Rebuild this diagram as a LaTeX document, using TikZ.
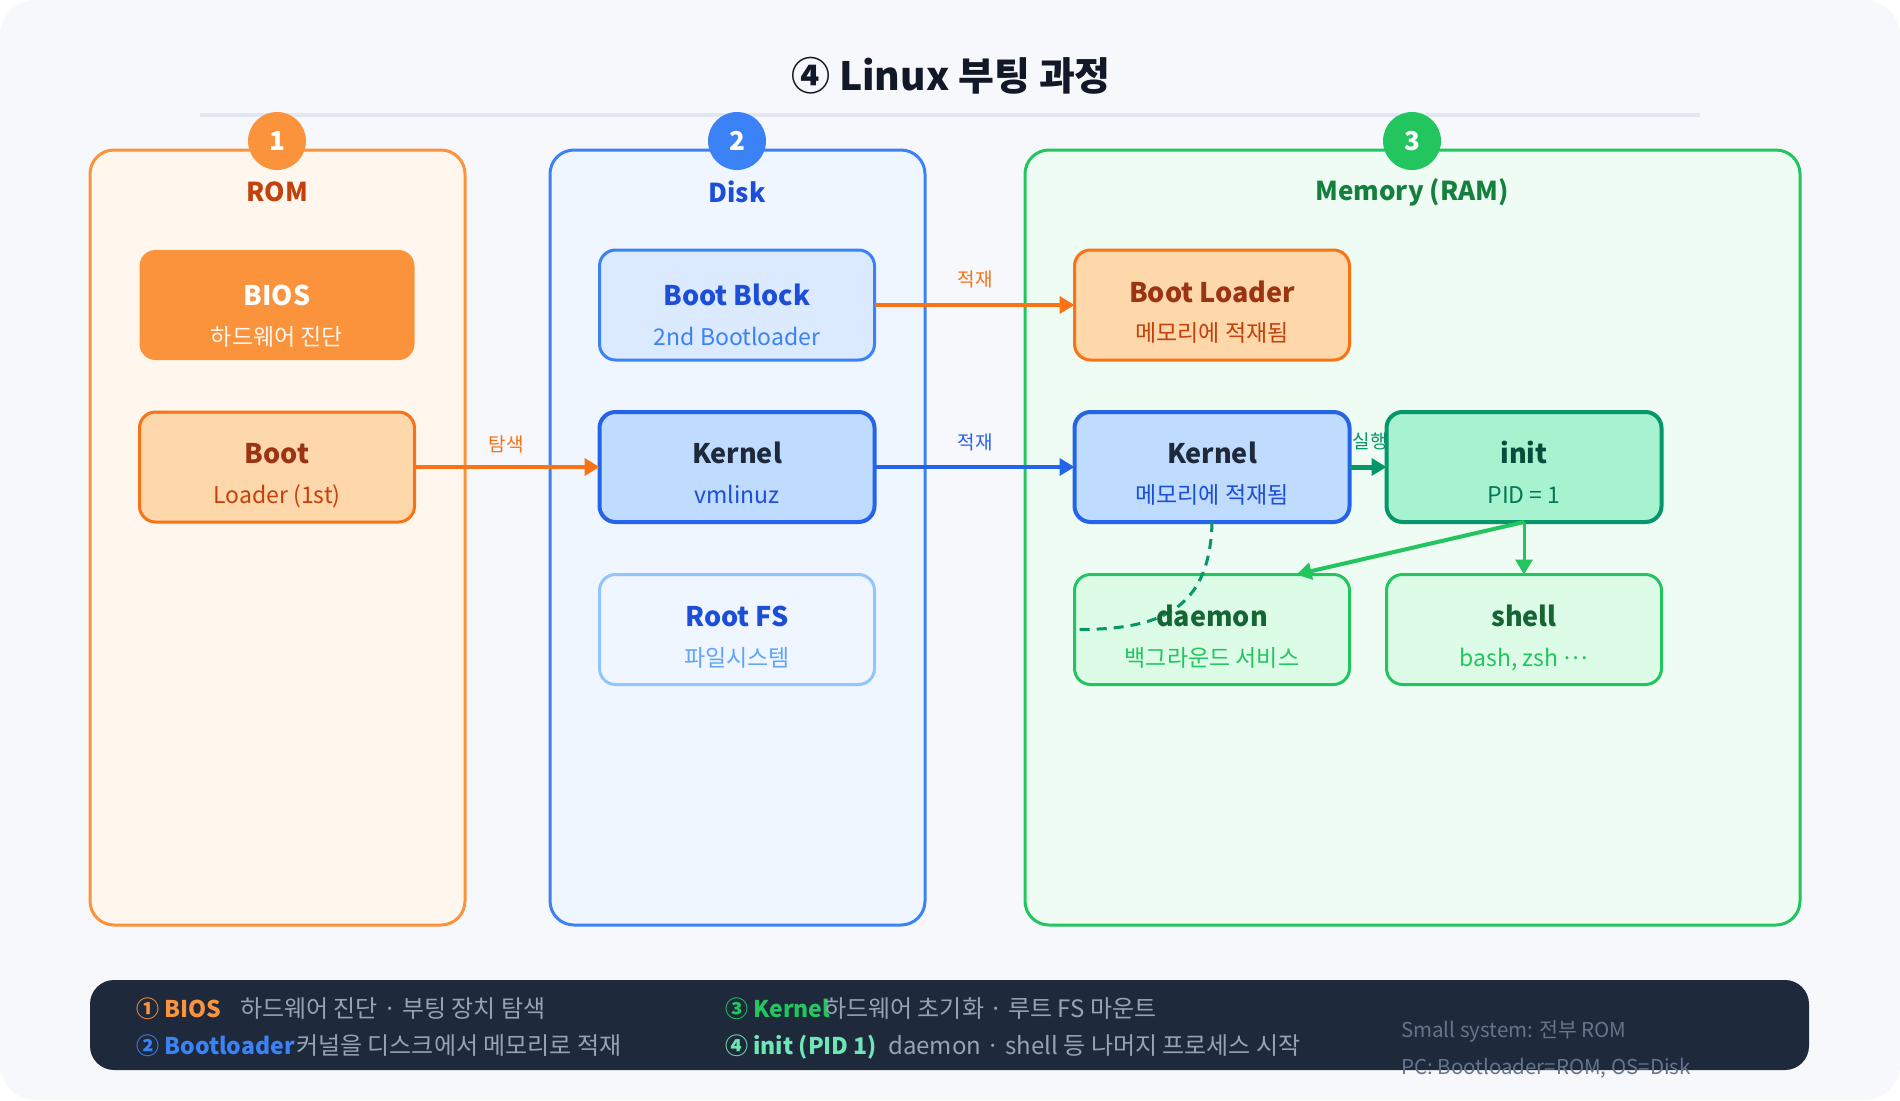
\documentclass[tikz,border=0pt]{standalone}
\usepackage{fontspec}
\setmainfont{Noto Sans CJK KR}
\usetikzlibrary{arrows.meta}
\definecolor{bgc}{HTML}{F6F8FC}
\definecolor{titlec}{HTML}{111827}
\definecolor{sepc}{HTML}{E2E6F0}
\definecolor{romF}{HTML}{FFF7ED}\definecolor{romS}{HTML}{FB923C}\definecolor{romT}{HTML}{C2410C}
\definecolor{diskF}{HTML}{EFF6FF}\definecolor{diskS}{HTML}{3B82F6}\definecolor{diskT}{HTML}{1D4ED8}
\definecolor{memF}{HTML}{EEFCF3}\definecolor{memS}{HTML}{22C55E}\definecolor{memT}{HTML}{15803D}
\definecolor{biosF}{HTML}{FB923C}
\definecolor{blF}{HTML}{FED7AA}\definecolor{blS}{HTML}{F97316}\definecolor{blT}{HTML}{9A3412}\definecolor{blSub}{HTML}{C2410C}
\definecolor{bbF}{HTML}{DBEAFE}
\definecolor{kF}{HTML}{BFDBFE}\definecolor{kS}{HTML}{2563EB}\definecolor{kT}{HTML}{1E293B}
\definecolor{rfS}{HTML}{93C5FD}\definecolor{rfSub}{HTML}{60A5FA}
\definecolor{initF}{HTML}{A7F3D0}\definecolor{initS}{HTML}{059669}\definecolor{initT}{HTML}{064E3B}\definecolor{initSub}{HTML}{047857}
\definecolor{dF}{HTML}{DCFCE7}\definecolor{dT}{HTML}{166534}
\definecolor{legF}{HTML}{1E293B}\definecolor{legT}{HTML}{94A3B8}\definecolor{legS}{HTML}{64748B}
\definecolor{mint}{HTML}{6EE7B7}
\tikzset{
  colbox/.style={rounded corners=24, line width=3, minimum width=375, minimum height=775, inner sep=0, outer sep=0},
  badge/.style={circle, minimum size=58, inner sep=0, text=white, font=\bfseries\fontsize{26}{30}\selectfont},
  coltitle/.style={font=\bfseries\fontsize{26}{30}\selectfont},
  box/.style={rounded corners=16, minimum width=275, minimum height=110, inner sep=0, outer sep=0, line width=3},
  ttl/.style={font=\bfseries\fontsize{27}{32}\selectfont, anchor=base, inner sep=0},
  sub/.style={font=\fontsize{23}{27}\selectfont, anchor=base, inner sep=0},
  lbl/.style={font=\fontsize{19}{22}\selectfont},
  arr/.style={-{Triangle[length=15pt,width=17pt]}, line width=4},
  legb/.style={font=\bfseries\fontsize{23}{27}\selectfont, anchor=base west, inner sep=0},
  legn/.style={font=\fontsize{24}{28}\selectfont, anchor=base west, inner sep=0, text=legT},
  legs/.style={font=\fontsize{20.5}{24}\selectfont, anchor=base west, inner sep=0, text=legS},
}
\begin{document}
\begin{tikzpicture}[x=1pt,y=-1pt]
\useasboundingbox (0,0) rectangle (1900,1100);
\fill[white] (0,0) rectangle (1900,1100);
\fill[bgc, rounded corners=36] (0,0) rectangle (1900,1100);

\node[font=\bfseries\fontsize{39}{46}\selectfont, text=titlec] (title) at (951,76) {④ Linux 부팅 과정};
\draw[sepc, line width=4] (200,115) -- (1700,115);

% columns
\node[colbox, draw=romS, fill=romF] (rom) at (277.5,537.5) {};
\node[colbox, draw=diskS, fill=diskF] (disk) at (737.5,537.5) {};
\node[colbox, draw=memS, fill=memF, minimum width=775] (mem) at (1412.5,537.5) {};
\node[badge, fill=romS] (b1) at (277,141) {1};
\node[badge, fill=diskS] (b2) at (737,141) {2};
\node[badge, fill=memS] (b3) at (1412,141) {3};
\node[coltitle, text=romT] (tRom) at (277,192) {ROM};
\node[coltitle, text=diskT] (tDisk) at (737,192) {Disk};
\node[coltitle, text=memT] (tMem) at (1412,192) {Memory (RAM)};

% boxes
\node[box, fill=biosF] (bios) at (277,305) {};
\node[ttl, text=white] (biosT) at ([yshift=0pt]bios.center) {BIOS};
\node[sub, text=romF] (biosS) at ([yshift=-40pt]bios.center) {하드웨어 진단};

\node[box, fill=blF, draw=blS] (bl1) at (277,467) {};
\node[ttl, text=blT] (bl1T) at ([yshift=4pt]bl1.center) {Boot};
\node[sub, text=blSub] (bl1S) at ([yshift=-36pt]bl1.center) {Loader (1st)};

\node[box, fill=bbF, draw=diskS] (bb) at (737,305) {};
\node[ttl, text=diskT] (bbT) at ([yshift=0pt]bb.center) {Boot Block};
\node[sub, text=diskS] (bbS) at ([yshift=-40pt]bb.center) {2nd Bootloader};

\node[box, fill=kF, draw=kS, line width=4] (kd) at (737,467) {};
\node[ttl, text=kT] (kdT) at ([yshift=4pt]kd.center) {Kernel};
\node[sub, text=diskT] (kdS) at ([yshift=-36pt]kd.center) {vmlinuz};

\node[box, fill=diskF, draw=rfS] (rf) at (737,629.5) {};
\node[ttl, text=diskT] (rfT) at ([yshift=3pt]rf.center) {Root FS};
\node[sub, text=rfSub] (rfS) at ([yshift=-37pt]rf.center) {파일시스템};

\node[box, fill=blF, draw=blS] (bl2) at (1212,305) {};
\node[ttl, text=blT] (bl2T) at ([yshift=3pt]bl2.center) {Boot Loader};
\node[sub, text=blSub] (bl2S) at ([yshift=-36pt]bl2.center) {메모리에 적재됨};

\node[box, fill=kF, draw=kS, line width=4] (km) at (1212,467) {};
\node[ttl, text=kT] (kmT) at ([yshift=4pt]km.center) {Kernel};
\node[sub, text=diskT] (kmS) at ([yshift=-36pt]km.center) {메모리에 적재됨};

\node[box, fill=initF, draw=initS, line width=4] (init) at (1524,467) {};
\node[ttl, text=initT] (initT) at ([yshift=4pt]init.center) {init};
\node[sub, text=initSub] (initS) at ([yshift=-36pt]init.center) {PID = 1};

\node[box, fill=dF, draw=memS] (dae) at (1212,629.5) {};
\node[box, fill=dF, draw=memS] (sh) at (1524,629.5) {};
\node[sub, text=memS] (shS) at ([yshift=-37pt]sh.center) {bash, zsh \raisebox{0.3em}{…}};
\node[sub, text=memS] (daeS) at ([yshift=-37pt]dae.center) {백그라운드 서비스};

% connectors
\draw[arr, blS] (bl1.east) -- (kd.west);
\node[lbl, text=blS] (lb1) at (506,444) {탐색};
\draw[arr, blS] (bb.east) -- (bl2.west);
\node[lbl, text=blS] (lb2) at (975,279) {적재};
\draw[arr, kS] (kd.east) -- (km.west);
\node[lbl, text=kS] (lb3) at (975,442) {적재};
\draw[arr, initS, line width=5] (km.east) -- (init.west);
\node[lbl, text=initS] (lb4) at (1370,441) {실행};
\draw[arr, memS] (init.south) -- ([xshift=-53pt]dae.north east);
\draw[arr, memS, line width=3] (init.south) -- (sh.north);
\draw[initS, line width=3, dash pattern=on 10pt off 7pt] (km.south) .. controls (1210,610) and (1160,630) .. (dae.west);
\node[ttl, text=dT] (shT) at ([yshift=3pt]sh.center) {shell};
\node[ttl, text=dT] (daeT) at ([yshift=3pt]dae.center) {daemon};

% legend
\node[fill=legF, rounded corners=24, minimum width=1719, minimum height=90, inner sep=0] (leg) at (949.5,1025) {};
\node[legb, text=romS] (l1a) at (136,1017) {① BIOS};
\node[legn] (l1b) at (240,1017) {하드웨어 진단 · 부팅 장치 탐색};
\node[legb, text=diskS] (l2a) at (136,1054) {② Bootloader};
\node[legn] (l2b) at (296,1054) {커널을 디스크에서 메모리로 적재};
\node[legb, text=memS] (l3a) at (725,1017) {③ Kernel};
\node[legn] (l3b) at (824,1017) {하드웨어 초기화 · 루트 FS 마운트};
\node[legb, text=mint] (l4a) at (725,1054) {④ init (PID 1)};
\node[legn] (l4b) at (888,1054) {daemon · shell 등 나머지 프로세스 시작};
\node[legs] (s1) at (1401,1037) {Small system: 전부 ROM};
\node[legs] (s2) at (1401,1074) {PC: Bootloader=ROM, OS=Disk};
\end{tikzpicture}
\end{document}
